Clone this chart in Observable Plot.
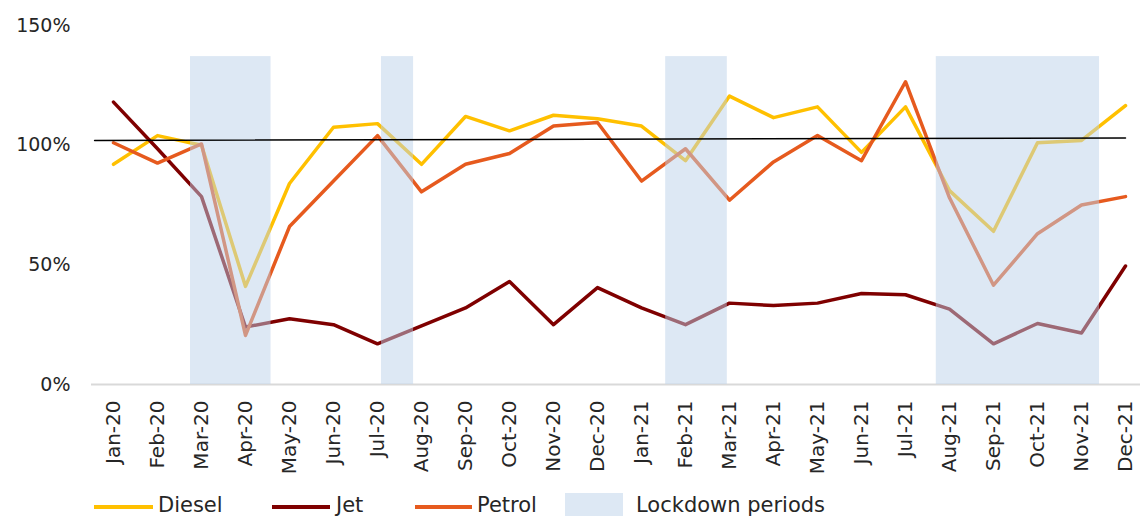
<!DOCTYPE html>
<html><head><meta charset="utf-8">
<script src="https://cdn.jsdelivr.net/npm/d3@7"></script>
<script src="https://cdn.jsdelivr.net/npm/@observablehq/plot@0.6"></script>
<style>
html,body{margin:0;padding:0;background:#fff;overflow:hidden;width:1140px;height:516px}
#wrap{position:relative;width:1140px;height:516px;overflow:hidden}
#wrap svg{position:absolute;left:0;top:0;max-width:none}
.leg{position:absolute;font-family:"DejaVu Sans";font-size:21px;color:#262626;line-height:1;white-space:nowrap}
.sw{position:absolute;height:4px}
</style></head><body><div id="wrap"></div>
<script>
const months = ["Jan-20","Feb-20","Mar-20","Apr-20","May-20","Jun-20","Jul-20","Aug-20","Sep-20","Oct-20","Nov-20","Dec-20",
                "Jan-21","Feb-21","Mar-21","Apr-21","May-21","Jun-21","Jul-21","Aug-21","Sep-21","Oct-21","Nov-21","Dec-21"];
const diesel = [92, 104, 100, 41, 84, 107.5, 109, 92, 112, 106, 112.5, 111, 108, 93.5, 120.5, 111.5, 116, 97, 116, 81, 64, 101, 102, 116.5];
const jet    = [118, 98.5, 78.5, 24, 27.5, 25, 17, 24.5, 32, 43, 25, 40.5, 32, 25, 34, 33, 34, 38, 37.5, 31.5, 17, 25.5, 21.5, 49.5];
const petrol = [101, 92.5, 100.5, 20.5, 66, 85, 104, 80.5, 92, 96.5, 108, 109.5, 85, 98.5, 77, 93, 104, 93.5, 126.5, 78, 41.5, 63, 75, 78.5];
// lockdown periods as fractional month positions (0 = Jan-20)
const lockStart = [1.75, 6.09, 12.55, 18.70];
const lockEnd   = [3.58, 6.82, 13.95, 22.41];
const lockTop = 137;
// reference line
const refX = [-0.43, 23];
const refY = [102, 103];
const yTicks = [0, 50, 100, 150];

const seriesNames = ["Diesel", "Jet", "Petrol"];
const seriesColors = ["#FFC000", "#7F0000", "#E65A1E"];
const seriesVals = [diesel, jet, petrol];

const rows = (vals) => vals.map((v, i) => ({i, v}));
const lockdowns = lockStart.map((s, k) => ({s, e: lockEnd[k]}));
const ref = refX.map((x, k) => ({x, y: refY[k]}));

const chart = Plot.plot({
  width: 1140, height: 488,
  marginLeft: 91, marginRight: 0, marginTop: 20, marginBottom: 104,
  style: {fontFamily: "DejaVu Sans", background: "transparent", color: "#262626", overflow: "visible"},
  x: {type: "linear", domain: [-0.5, 23.5], range: [91, 1147]},
  y: {domain: [0, 150], range: [384, 25]},
  marks: [
    Plot.ruleY([0], {x1: -0.5, x2: 23.5, stroke: "#d9d9d9", strokeWidth: 2}),
    ...seriesVals.map((vals, k) => Plot.line(rows(vals), {
      x: "i", y: "v", stroke: seriesColors[k], strokeWidth: 3.5,
      strokeLinejoin: "round", strokeLinecap: "round"
    })),
    Plot.rect(lockdowns, {x1: "s", x2: "e", y1: 0, y2: lockTop, fill: "#BBD1E9", fillOpacity: 0.5}),
    Plot.line(ref, {x: "x", y: "y", stroke: "#000", strokeWidth: 1.5}),
    Plot.axisY({ticks: yTicks, tickFormat: d => d + "%", tickSize: 0, tickPadding: 21, fontSize: 19}),
    Plot.axisX({ticks: d3.range(months.length), tickFormat: i => months[i], tickRotate: -90,
                tickSize: 0, tickPadding: 16, fontSize: 20})
  ]
});
const wrap = document.getElementById("wrap");
wrap.appendChild(chart);

// legend
const leg = [
  {name: "Diesel", color: seriesColors[0], sx: 94, sw: 59, tx: 158},
  {name: "Jet", color: seriesColors[1], sx: 272, sw: 58, tx: 336},
  {name: "Petrol", color: seriesColors[2], sx: 415, sw: 57, tx: 477}
];
leg.forEach(d => {
  const s = document.createElement("div");
  s.className = "sw";
  s.style.cssText = `left:${d.sx}px;top:505px;width:${d.sw}px;background:${d.color}`;
  wrap.appendChild(s);
  const t = document.createElement("div");
  t.className = "leg";
  t.style.cssText = `left:${d.tx}px;top:495px`;
  t.textContent = d.name;
  wrap.appendChild(t);
});
const box = document.createElement("div");
box.style.cssText = "position:absolute;left:565px;top:493px;width:58px;height:23px;background:#DDE8F4";
wrap.appendChild(box);
const lt = document.createElement("div");
lt.className = "leg";
lt.style.cssText = "left:636px;top:495px";
lt.textContent = "Lockdown periods";
wrap.appendChild(lt);
</script>
</body></html>
